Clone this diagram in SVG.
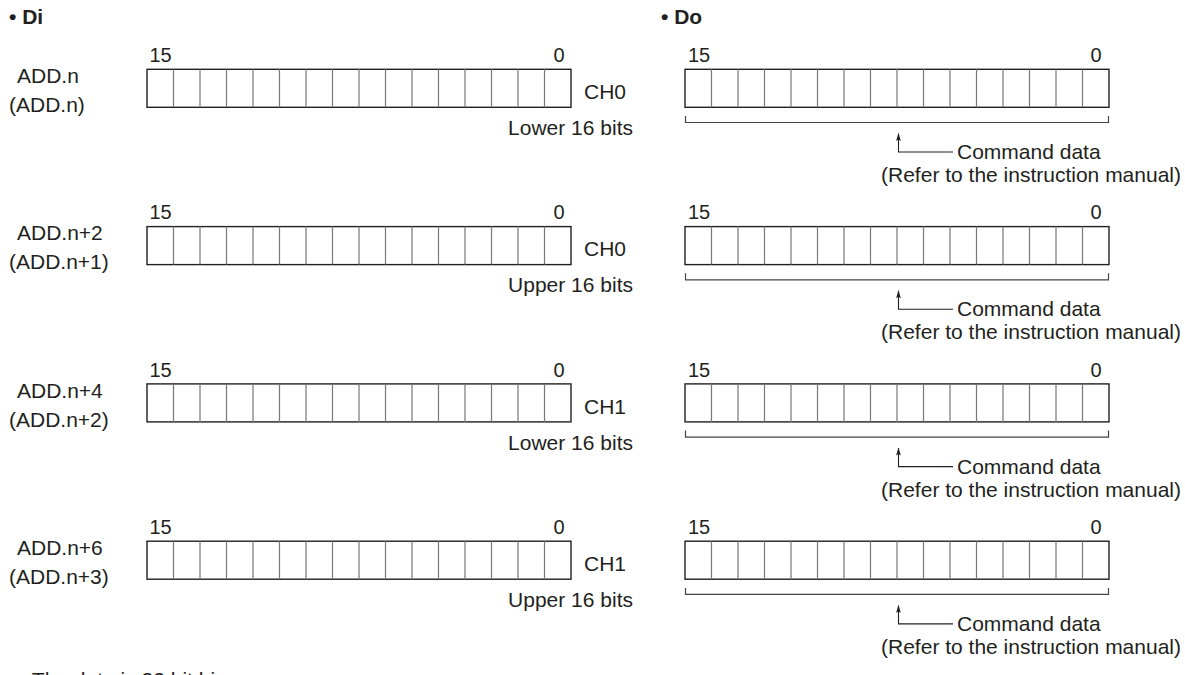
<svg xmlns="http://www.w3.org/2000/svg" xmlns:xlink="http://www.w3.org/1999/xlink" width="1185" height="675" viewBox="0 0 1185 675">
<style>
text{font-family:"Liberation Sans",Arial,sans-serif;fill:#231f20}
.lbl{font-size:21px}
.num{font-size:20px}
.hd{font-size:21px;font-weight:bold}
.end{text-anchor:end}
.box{fill:#fff;stroke:#231f20;stroke-width:1.4}
.div{fill:none;stroke:#777;stroke-width:1.2}
.brk{fill:none;stroke:#444;stroke-width:1.2}
.arr{fill:none;stroke:#231f20;stroke-width:1.1}
</style>
<defs>
<g id="reg">
<rect class="box" x="0" y="0" width="424" height="38"/>
<path class="div" d="M26.5,0V38M53,0V38M79.5,0V38M106,0V38M132.5,0V38M159,0V38M185.5,0V38M212,0V38M238.5,0V38M265,0V38M291.5,0V38M318,0V38M344.5,0V38M371,0V38M397.5,0V38"/>
</g>
<marker id="ah" markerWidth="8" markerHeight="6" refX="7.5" refY="3" orient="auto" markerUnits="userSpaceOnUse" viewBox="0 0 8 6">
<path d="M0,0.6L8,3L0,5.4L1.6,3Z" fill="#231f20"/>
</marker>
</defs>
<rect width="1185" height="675" fill="#fff"/>
<text class="hd" x="9" y="24">• Di</text>
<text class="hd" x="661" y="24">• Do</text>

<g id="di-row1">
<text class="lbl" x="17" y="83">ADD.n</text>
<text class="lbl" x="9" y="112">(ADD.n)</text>
<text class="num" x="149.5" y="62">15</text>
<text class="num end" x="564.5" y="62">0</text>
<use xlink:href="#reg" x="147" y="69.3"/>
<text class="lbl" x="584" y="99">CH0</text>
<text class="lbl end" x="633" y="135">Lower 16 bits</text>
</g>
<g id="do-row1">
<text class="num" x="688" y="62">15</text>
<text class="num end" x="1101.5" y="62">0</text>
<use xlink:href="#reg" x="685" y="69.3"/>
<text class="lbl" x="957" y="159">Command data</text>
<text class="lbl end" x="1181" y="182">(Refer to the instruction manual)</text>
</g>

<g id="di-row2" transform="translate(0,157.3)">
<text class="lbl" x="17" y="83">ADD.n+2</text>
<text class="lbl" x="9" y="112">(ADD.n+1)</text>
<text class="num" x="149.5" y="62">15</text>
<text class="num end" x="564.5" y="62">0</text>
<use xlink:href="#reg" x="147" y="69.3"/>
<text class="lbl" x="584" y="99">CH0</text>
<text class="lbl end" x="633" y="135">Upper 16 bits</text>
</g>
<g id="do-row2" transform="translate(0,157.3)">
<text class="num" x="688" y="62">15</text>
<text class="num end" x="1101.5" y="62">0</text>
<use xlink:href="#reg" x="685" y="69.3"/>
<text class="lbl" x="957" y="159">Command data</text>
<text class="lbl end" x="1181" y="182">(Refer to the instruction manual)</text>
</g>

<g id="di-row3" transform="translate(0,314.6)">
<text class="lbl" x="17" y="83">ADD.n+4</text>
<text class="lbl" x="9" y="112">(ADD.n+2)</text>
<text class="num" x="149.5" y="62">15</text>
<text class="num end" x="564.5" y="62">0</text>
<use xlink:href="#reg" x="147" y="69.3"/>
<text class="lbl" x="584" y="99">CH1</text>
<text class="lbl end" x="633" y="135">Lower 16 bits</text>
</g>
<g id="do-row3" transform="translate(0,314.6)">
<text class="num" x="688" y="62">15</text>
<text class="num end" x="1101.5" y="62">0</text>
<use xlink:href="#reg" x="685" y="69.3"/>
<text class="lbl" x="957" y="159">Command data</text>
<text class="lbl end" x="1181" y="182">(Refer to the instruction manual)</text>
</g>

<g id="di-row4" transform="translate(0,471.9)">
<text class="lbl" x="17" y="83">ADD.n+6</text>
<text class="lbl" x="9" y="112">(ADD.n+3)</text>
<text class="num" x="149.5" y="62">15</text>
<text class="num end" x="564.5" y="62">0</text>
<use xlink:href="#reg" x="147" y="69.3"/>
<text class="lbl" x="584" y="99">CH1</text>
<text class="lbl end" x="633" y="135">Upper 16 bits</text>
</g>
<g id="do-row4" transform="translate(0,471.9)">
<text class="num" x="688" y="62">15</text>
<text class="num end" x="1101.5" y="62">0</text>
<use xlink:href="#reg" x="685" y="69.3"/>
<text class="lbl" x="957" y="159">Command data</text>
<text class="lbl end" x="1181" y="182">(Refer to the instruction manual)</text>
</g>

<g id="connectors">
<path class="brk" d="M685.5,116V122.5H1108.5V116"/>
<path class="arr" d="M953,152H898.5V133.5" marker-end="url(#ah)"/>
<path class="brk" d="M685.5,273.3V279.8H1108.5V273.3"/>
<path class="arr" d="M953,309.3H898.5V290.8" marker-end="url(#ah)"/>
<path class="brk" d="M685.5,430.6V437.1H1108.5V430.6"/>
<path class="arr" d="M953,466.6H898.5V448.1" marker-end="url(#ah)"/>
<path class="brk" d="M685.5,587.9V594.4H1108.5V587.9"/>
<path class="arr" d="M953,623.9H898.5V605.4" marker-end="url(#ah)"/>
</g>

<text class="lbl" x="19" y="687">• The data is 32 bit binary.</text>
</svg>
